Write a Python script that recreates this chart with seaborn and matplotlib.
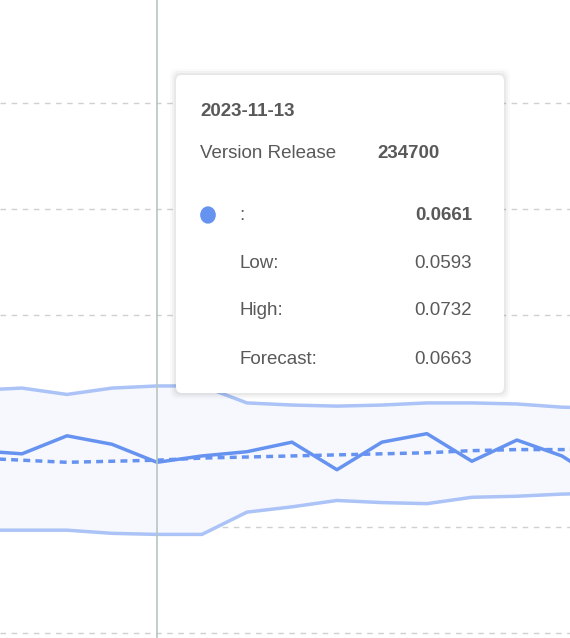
import matplotlib
matplotlib.use("Agg")
import matplotlib.pyplot as plt
from matplotlib.patches import FancyBboxPatch
import seaborn as sns
import pandas as pd
import numpy as np

# weekly points, 2023-11-13 is the hovered one
dates = pd.date_range("2023-10-16", periods=15, freq="7D")
actual = [0.0672, 0.0669, 0.0686, 0.0678, 0.0661, 0.0667, 0.0671, 0.0680,
          0.0654, 0.0680, 0.0688, 0.0662, 0.0682, 0.0667, 0.0640]
forecast = [0.0665, 0.0663, 0.0661, 0.0662, 0.0663, 0.0665, 0.0666, 0.0667,
            0.0668, 0.0669, 0.0670, 0.0672, 0.0673, 0.0673, 0.0673]
low = [0.0597, 0.0597, 0.0597, 0.0594, 0.0593, 0.0593, 0.0614, 0.0619,
       0.0625, 0.0623, 0.0622, 0.0628, 0.0629, 0.0631, 0.0632]
high = [0.0729, 0.0731, 0.0725, 0.0731, 0.0733, 0.0733, 0.0717, 0.0715,
        0.0714, 0.0715, 0.0717, 0.0717, 0.0716, 0.0713, 0.0712]

df = pd.DataFrame({"date": dates, "actual": actual, "forecast": forecast,
                   "low": low, "high": high})
df["i"] = np.arange(len(df)) - 1  # i = 3 is the hovered date

sns.set_style("white")
plt.rcParams["font.family"] = ["Liberation Sans", "DejaVu Sans"]

fig = plt.figure(figsize=(5.7, 6.38), dpi=100)
ax = fig.add_axes([0, 0, 1, 1])

ax.fill_between(df["i"], df["low"], df["high"], color="#f7f8fe", zorder=1)
sns.lineplot(data=df, x="i", y="high", color="#abc3f6", lw=2.5, ax=ax, zorder=2)
sns.lineplot(data=df, x="i", y="low", color="#abc3f6", lw=2.5, ax=ax, zorder=2)
sns.lineplot(data=df, x="i", y="forecast", color="#6693f0", lw=2.5,
             ls=(0, (2, 1.5)), ax=ax, zorder=3)
sns.lineplot(data=df, x="i", y="actual", color="#6693f0", lw=2.5, ax=ax, zorder=4)

for v in [0.05, 0.06, 0.07, 0.08, 0.09, 0.10]:
    ax.axhline(v, color="#d0d0d0", lw=1, ls=(0, (4, 4)), zorder=0)
ax.axvline(3, color="#b5c7c4", lw=1.2, zorder=5)

ax.set_xlim(-0.489, 12.18)
ax.set_ylim(0.04953, 0.1097)
ax.axis("off")

def px(x, y):
    return x / 570, 1 - y / 638

# tooltip with soft shadow
for k, a in enumerate([0.04, 0.03, 0.02]):
    d = (k + 1) * 2
    fig.patches.append(FancyBboxPatch(((176 - d) / 570, 1 - (393 + d) / 638),
                                      (328 + 2 * d) / 570, (318 + 2 * d) / 638,
                                      boxstyle="round,pad=0,rounding_size=0.012",
                                      transform=fig.transFigure, fc="black",
                                      ec="none", alpha=a, zorder=9))
fig.patches.append(FancyBboxPatch((176 / 570, 1 - 393 / 638), 328 / 570, 318 / 638,
                                  boxstyle="round,pad=0,rounding_size=0.01",
                                  transform=fig.transFigure, fc="white",
                                  ec="none", zorder=10))

c = "#595959"
kw = dict(fontsize=13.5, color=c, va="center", zorder=12)
fig.text(*px(200, 112), "2023-11-13", weight="bold", **kw)
fig.text(*px(200, 153), "Version Release", **kw)
fig.text(*px(377, 153), "234700", weight="bold", **kw)
fig.patches.append(plt.Circle(px(208, 215), 0.0125, transform=fig.transFigure,
                              color="#6693f0", zorder=11))
rows = [(":", "0.0661", True), ("Low:", "0.0593", False),
        ("High:", "0.0732", False), ("Forecast:", "0.0663", False)]
for k, (lab, val, b) in enumerate(rows):
    y = 215 + 48 * k
    fig.text(*px(239, y), lab, **kw)
    fig.text(*px(472, y), val, ha="right", weight="bold" if b else "normal", **kw)

fig.savefig("out.png", dpi=100)
